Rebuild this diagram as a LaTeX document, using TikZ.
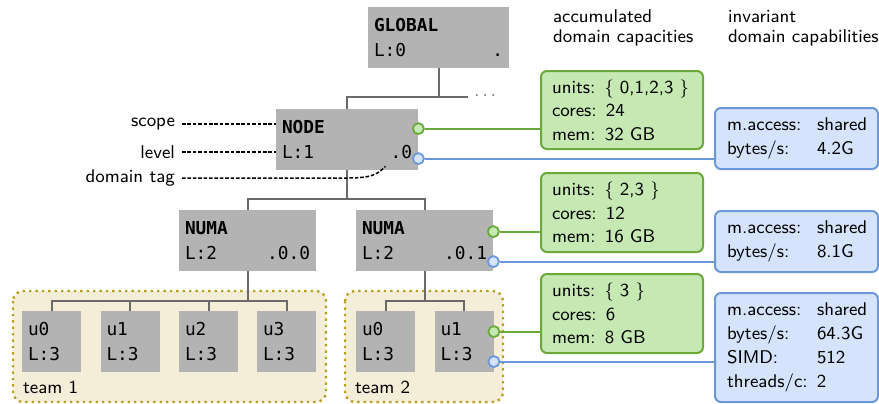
\documentclass[tikz,border=0pt]{standalone}
\usepackage{fontspec}
\setmonofont{DejaVu Sans Mono}
\definecolor{boxgray}{HTML}{B3B3B3}
\definecolor{treegray}{HTML}{6A6A6A}
\definecolor{capgreen}{HTML}{C6E8B3}
\definecolor{capgreenline}{HTML}{6AAA3A}
\definecolor{capblue}{HTML}{D5E4FC}
\definecolor{capblueline}{HTML}{6C98D9}
\definecolor{teamfill}{HTML}{F4EED8}
\definecolor{teamline}{HTML}{B8A020}
\newcommand{\dtag}[1]{\hfill#1\hspace*{3.5pt}}
\newcommand{\kv}[2]{\makebox[45pt][l]{#1}#2}
\begin{document}
\begin{tikzpicture}[x=0.5pt, y=-0.5pt,
    font=\sffamily\fontsize{9.2}{10}\selectfont,
    dom/.style={fill=boxgray, inner xsep=3pt, inner ysep=0pt,
      minimum height=30.5pt, align=left, text width=#1,
      font=\ttfamily\fontsize{8.9}{12.5}\selectfont},
    capbox/.style={draw=capgreenline, fill=capgreen, line width=1pt,
      rounded corners=3pt, align=left, text width=70pt, inner xsep=5.5pt,
      inner ysep=2pt, minimum height=#1,
      font=\sffamily\fontsize{9.2}{11.75}\selectfont},
    invbox/.style={draw=capblueline, fill=capblue, line width=1pt,
      rounded corners=3pt, align=left, text width=69.5pt, inner xsep=6pt,
      inner ysep=2pt, minimum height=#1,
      font=\sffamily\fontsize{9.2}{12}\selectfont},
    team/.style={fill=teamfill, draw=teamline, line width=1.2pt,
      dotted, rounded corners=5pt},
    tree/.style={draw=treegray, line width=1pt},
    gline/.style={draw=capgreenline, line width=1pt},
    bline/.style={draw=capblueline, line width=1pt},
    gdot/.style={circle, draw=capgreenline, fill=capgreen, line width=0.9pt,
      inner sep=0pt, minimum size=5.5pt},
    bdot/.style={circle, draw=capblueline, fill=capblue, line width=0.9pt,
      inner sep=0pt, minimum size=5.5pt},
    lbl/.style={anchor=east},
    lblline/.style={dash pattern=on 1.8pt off 0.9pt, line width=0.75pt}]
  \useasboundingbox (0,0) rectangle (879,403);

  % teams
  \path[team] (13,291) rectangle (326,402);
  \path[team] (345,291) rectangle (503,402);
  \node[anchor=west] (team1) at (16,387) {team 1};
  \node[anchor=west] (team2) at (348,387) {team 2};

  % domain hierarchy
  \node[dom=64.5pt] (global) at (438.5,37.5) {\textbf{GLOBAL}\\L:0\dtag{.}};
  \node[dom=65pt] (node) at (347,139.5) {\textbf{NODE}\\L:1\dtag{.0}};
  \node[dom=62.5pt] (numa0) at (247.5,240.5) {\textbf{NUMA}\\L:2\dtag{.0.0}};
  \node[dom=62.5pt] (numa1) at (424.5,240.5) {\textbf{NUMA}\\L:2\dtag{.0.1}};
  \node[dom=23.5pt] (u00) at (51.5,341.5) {u0\\L:3};
  \node[dom=23.5pt] (u01) at (130,341.5) {u1\\L:3};
  \node[dom=23.5pt] (u02) at (208.5,341.5) {u2\\L:3};
  \node[dom=23.5pt] (u03) at (286.5,341.5) {u3\\L:3};
  \node[dom=23.5pt] (u10) at (385.5,341.5) {u0\\L:3};
  \node[dom=23.5pt] (u11) at (464,341.5) {u1\\L:3};
  \node[anchor=west, text=treegray, inner xsep=3pt] (more) at (468,96) {$\ldots$};

  \draw[tree] (global.south) -- ++(0,29) coordinate (gbr) -| (node.north);
  \draw[tree] (gbr) -- (gbr -| more.west);
  \foreach \n in {numa0,numa1}
    \draw[tree] (node.south) -- ++(0,29) -| (\n.north);
  \foreach \u in {u00,u01,u02,u03}
    \draw[tree] (numa0.south) -- ++(0,30) -| (\u.north);
  \foreach \u in {u10,u11}
    \draw[tree] (numa1.south) -- ++(0,30) -| (\u.north);

  % annotations
  \node[lbl] (scope) at (182,124) {scope};
  \node[lbl] (level) at (182,152) {level};
  \node[lbl] (tag) at (182,178) {domain tag};
  \coordinate (tagend) at ([xshift=-16.5pt, yshift=2pt]node.south east);
  \draw[lblline] (scope.east) -- (scope.east -| node.west);
  \draw[lblline] (level.east) -- (level.east -| node.west);
  \draw[lblline] (tag.east) -- (tag.east -| node.south)
    .. controls +(25,0) and +(-8,8) .. (tagend);

  % headers
  \node[anchor=west, align=left] (acc) at (546,28) {accumulated\\domain capacities};
  \node[anchor=west, align=left] (inv) at (721,28) {invariant\\domain capabilities};

  % capacities
  \node[capbox=39pt] (caps0) at (622,110)
    {units: $\{$ 0,1,2,3 $\}$\\cores: 24\\mem: 32 GB};
  \node[capbox=39.5pt] (caps1) at (622,212.5)
    {units: $\{$ 2,3 $\}$\\cores: 12\\mem: 16 GB};
  \node[capbox=39.5pt] (caps2) at (622,313.5)
    {units: $\{$ 3 $\}$\\cores: 6\\mem: 8 GB};

  % capabilities
  \node[invbox=30.5pt] (inv0) at (796.5,138.5)
    {\kv{m.access:}{shared}\\\kv{bytes/s:}{4.2G}};
  \node[invbox=30.5pt] (inv1) at (796.5,241.5)
    {\kv{m.access:}{shared}\\\kv{bytes/s:}{8.1G}};
  \node[invbox=54.5pt] (inv2) at (796.5,347.5)
    {\kv{m.access:}{shared}\\\kv{bytes/s:}{64.3G}\\\kv{SIMD:}{512}\\threads/c: 2};

  % connectors
  \node[gdot] (g0) at ([yshift=-10pt]node.north east) {};
  \node[bdot] (b0) at ([yshift=-25pt]node.north east) {};
  \node[gdot] (g1) at ([yshift=-11pt]numa1.north east) {};
  \node[bdot] (b1) at ([yshift=-26pt]numa1.north east) {};
  \node[gdot] (g2) at ([yshift=-10.5pt]u11.north east) {};
  \node[bdot] (b2) at ([yshift=-25.5pt]u11.north east) {};
  \draw[gline] (g0) -- (g0 -| caps0.west);
  \draw[bline] (b0) -- (b0 -| inv0.west);
  \draw[gline] (g1) -- (g1 -| caps1.west);
  \draw[bline] (b1) -- (b1 -| inv1.west);
  \draw[gline] (g2) -- (g2 -| caps2.west);
  \draw[bline] (b2) -- (b2 -| inv2.west);
\end{tikzpicture}
\end{document}
